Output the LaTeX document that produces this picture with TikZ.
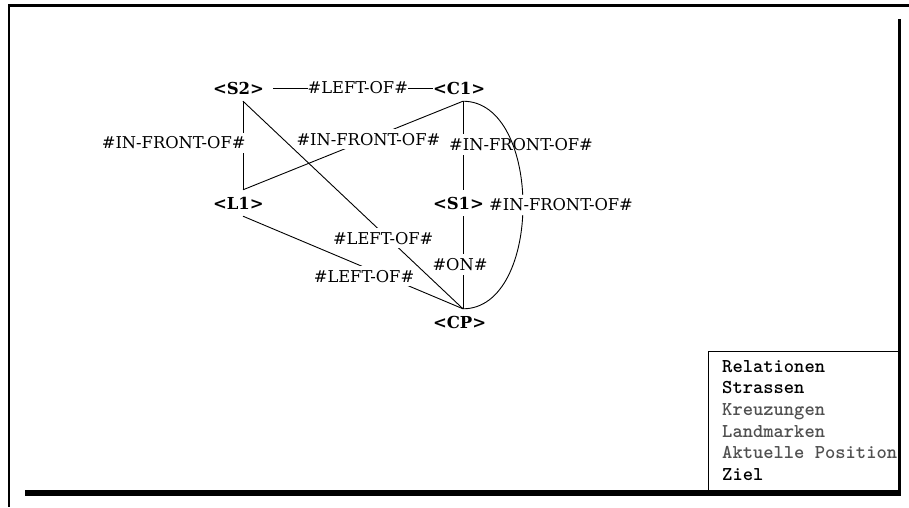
\documentclass[tikz,border=0pt]{standalone}
\usepackage{fontspec}
\newfontfamily\lblfont{DejaVu Serif}
\definecolor{leggray}{RGB}{80,80,80}
\begin{document}
\begin{tikzpicture}[x=1pt,y=-1pt,
  gnode/.style={font=\lblfont\bfseries\fontsize{16.5}{16.5}\selectfont, inner sep=0pt, text width=60pt, align=left, minimum height=26pt},
  elabel/.style={font=\lblfont\fontsize{16.3}{16.3}\selectfont, fill=white, inner xsep=0pt, inner ysep=4pt},
  edge/.style={line width=0.9pt},
  legitem/.style={font=\ttfamily\bfseries\fontsize{19.6}{19.6}\selectfont, anchor=base west, inner sep=0pt},
  framebar/.style={fill=black}
]
\useasboundingbox (0,0) rectangle (909,507);
\fill[white] (0,0) rectangle (909,507);

% nodes
\node[gnode] (S2) at (243,88) {<S2>};
\node[gnode] (C1) at (463,88) {<C1>};
\node[gnode] (L1) at (243,203) {<L1>};
\node[gnode] (S1) at (463,203) {<S1>};
\node[gnode] (CP) at (463,322) {<CP>};

% edges
\draw[edge] (S2.east) -- node[elabel, pos=0.53] {\#LEFT-OF\#} (C1.west);
\draw[edge] (S2.south) -- node[elabel, pos=0.47, anchor=east, xshift=3pt] {\#IN-FRONT-OF\#} (L1.north);
\draw[edge] (S2.south) -- node[elabel, pos=0.66, xshift=-5pt] {\#LEFT-OF\#} (CP.north);
\draw[edge] (C1.south) -- node[elabel, pos=0.43] {\#IN-FRONT-OF\#} (L1.north);
\draw[edge] (L1.south) -- node[elabel, pos=0.55, yshift=-9pt] {\#LEFT-OF\#} (CP.north);
\draw[edge] (C1.south) -- node[elabel, pos=0.49, xshift=58pt] {\#IN-FRONT-OF\#} (S1.north);
\draw[edge] (S1.south) -- node[elabel, pos=0.52, xshift=-3pt] {\#ON\#} (CP.north);
\draw[edge] (C1.south) to[out=0, in=0, distance=80pt] node[elabel, pos=0.5, xshift=38pt] {\#IN-FRONT-OF\#} (CP.north);

% legend
\draw[line width=1pt] (899,351.5) -- (708.5,351.5) -- (708.5,490);
\node[legitem] (lg1) at (722,372) {Relationen};
\node[legitem] (lg2) at (722,393.7) {Strassen};
\node[legitem, text=leggray] (lg3) at (722,415.4) {Kreuzungen};
\node[legitem, text=leggray] (lg4) at (722,437) {Landmarken};
\node[legitem, text=leggray] (lg5) at (722,458.8) {Aktuelle Position};
\node[legitem] (lg6) at (722,480.5) {Ziel};

% window frame
\fill[framebar] (8,4) rectangle (909,6.5);
\fill[framebar] (8,4) rectangle (10.2,507);
\fill[framebar] (897.5,19) rectangle (900.5,496);
\fill[framebar] (25,490) rectangle (900.5,496);
\end{tikzpicture}
\end{document}
